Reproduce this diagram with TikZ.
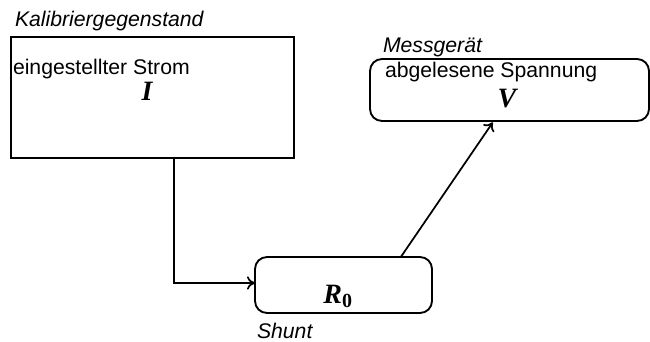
\documentclass[tikz,border=0pt]{standalone}
\usepackage{fontspec}
\usetikzlibrary{arrows.meta}
\setmainfont{Liberation Sans}
\newfontfamily\serifbi{Liberation Serif}
\begin{document}
\begin{tikzpicture}[x=0.75pt,y=-0.75pt,
  every node/.style={inner sep=0pt,outer sep=0pt},
  boxline/.style={draw=black,line width=1.4pt,rectangle},
  lbl/.style={anchor=base west,font=\fontsize{15.9}{18}\selectfont\itshape},
  txt/.style={anchor=base west,font=\fontsize{15.9}{18}\selectfont},
  sym/.style={anchor=base,font=\fontsize{21}{24}\selectfont\serifbi\bfseries\itshape},
  conn/.style={draw=black,line width=1.3pt,-{To[length=6pt,width=10pt]}}]
\useasboundingbox (0,0) rectangle (650,342);
% boxes
\node[boxline,minimum width=212.25pt,minimum height=90.75pt] (kal) at (152.5,97.5) {};
\node[boxline,rounded corners=9pt,minimum width=132.75pt,minimum height=42pt] (shunt) at (343.5,285) {};
\node[boxline,rounded corners=9pt,minimum width=209.25pt,minimum height=46.5pt] (mess) at (509.5,90) {};
\coordinate (kalbot) at ([xshift=16.1pt]kal.south);
\coordinate (shuntleft) at ([yshift=1.5pt]shunt.west);
\coordinate (shunttop) at ([xshift=43pt]shunt.north);
\coordinate (messbot) at ([xshift=-12.5pt,yshift=-1pt]mess.south);
% labels
\node[lbl] (l1) at (15,27) {Kalibriergegenstand};
\node[txt] (t1) at (13,75) {eingestellter Strom};
\node[sym] (I) at (147,101) {I};
\node[lbl] (l2) at (383,53) {Messgerät};
\node[txt] (t2) at (385,78) {abgelesene Spannung};
\node[sym] (V) at (507,108) {V};
\node[sym] (R) at (338,303) {R\textsubscript{\fontsize{15}{18}\selectfont\upshape 0}};
\node[lbl] (l3) at (257,338) {Shunt};
% connectors
\draw[conn] (kalbot) |- (shuntleft);
\draw[conn] (shunttop) -- (messbot);
\end{tikzpicture}
\end{document}
